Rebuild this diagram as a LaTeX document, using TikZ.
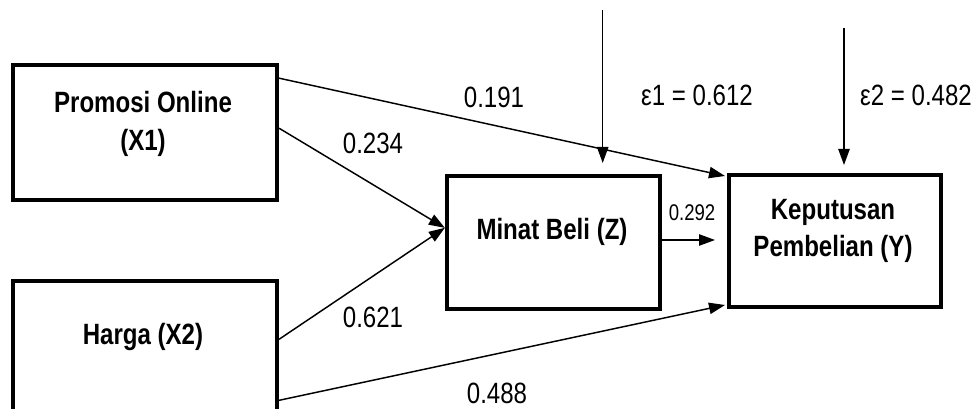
\documentclass[tikz,border=0pt]{standalone}
\usepackage{fontspec}
\setmainfont{Liberation Sans}[FakeStretch=0.82]
\usetikzlibrary{arrows.meta,calc}
\begin{document}
\begin{tikzpicture}[x=0.75pt,y=-0.75pt,
  box/.style={draw,line width=3pt,inner sep=0pt,minimum width=#1},
  lbl/.style={font=\fontsize{22}{26}\selectfont\bfseries,align=center,inner sep=0pt},
  coef/.style={font=\fontsize{22}{26}\selectfont,inner sep=0pt},
  link/.style={line width=1.1pt,-{Triangle[length=12pt,width=8.5pt]}}]
\useasboundingbox (0,0) rectangle (978,409);
% boxes
\node[box=198pt,minimum height=101pt] (x1) at (145,132.5) {};
\node[box=198pt,minimum height=100pt] (x2) at (145,348) {};
\node[box=160pt,minimum height=100pt] (z) at (553.5,242.5) {};
\node[box=159pt,minimum height=99pt] (y) at (835,241) {};
% box texts
\node[lbl] (tx1) at (143,124) {Promosi Online\\[2pt](X1)};
\node[lbl] (tx2) at (143,337) {Harga (X2)};
\node[lbl] (tz) at (552,232) {Minat Beli (Z)};
\node[lbl] (ty) at (833,231) {Keputusan\\[2pt]Pembelian (Y)};
% connector endpoints
\coordinate (e1top) at (602.7,10);
\coordinate (e1tip) at (602.7,163);
\coordinate (e2top) at (844,28);
\coordinate (e2tip) at (844,165);
\coordinate (zy) at (715,240);
% connectors
\draw[link] ($(x1.north east)+(0,15)$) -- ($(y.north west)+(-2,3)$);
\draw[link] ($(x1.north east)+(0,65)$) -- ($(z.north west)+(0,54)$);
\draw[link] ($(x2.north east)+(0,60)$) -- ($(z.north west)+(0,54)$);
\draw[link] ($(x2.north east)+(0,121)$) -- ($(y.south west)+(-2,-4)$);
\draw[link] (z.east |- zy) -- (zy);
\draw[link] (e1top) -- (e1tip);
\draw[link] (e2top) -- (e2tip);
% coefficients
\node[coef] (c191) at (494,97) {0.191};
\node[coef] (c234) at (373,143) {0.234};
\node[coef] (c621) at (373,317) {0.621};
\node[coef] (c488) at (497,393) {0.488};
\node[coef,font=\fontsize{17}{20}\selectfont] (c292) at (692,213) {0.292};
\node[coef] (e1) at (697,95) {ε1 = 0.612};
\node[coef] (e2) at (916,95) {ε2 = 0.482};
\end{tikzpicture}
\end{document}
